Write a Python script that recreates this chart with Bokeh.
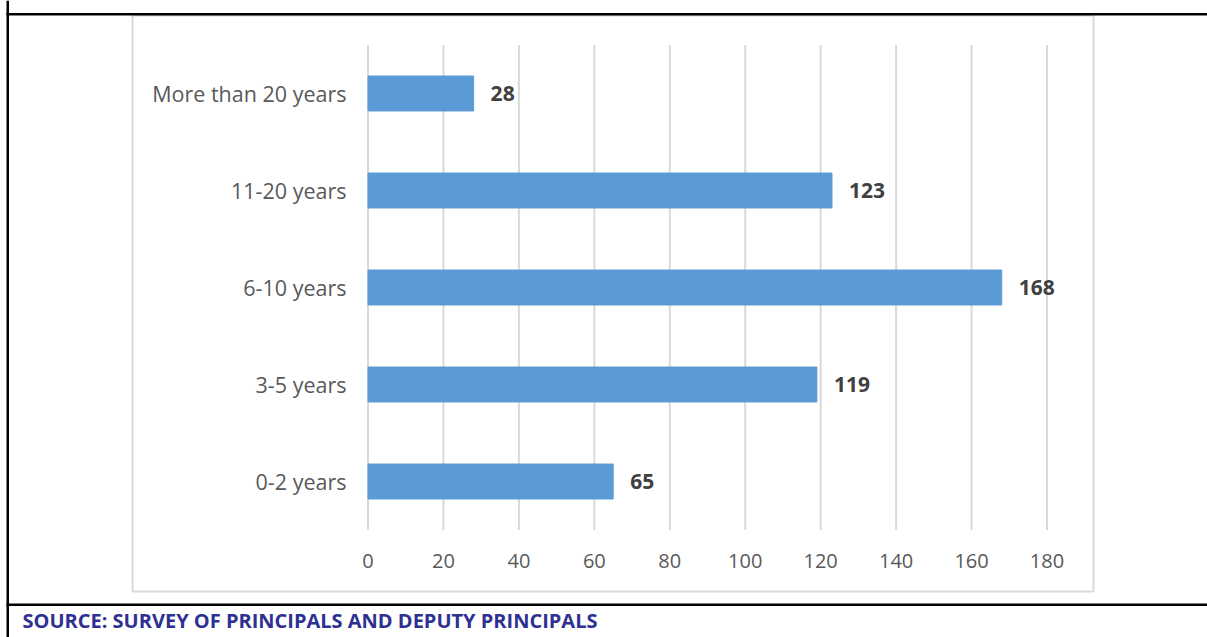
from bokeh.plotting import figure
from bokeh.models import (Range1d, FixedTicker, BoxAnnotation, Label,
                          ColumnDataSource)
from bokeh.core.properties import value
from bokeh.embed import file_html
from bokeh.resources import INLINE

categories = ["0-2 years", "3-5 years", "6-10 years", "11-20 years", "More than 20 years"]
values = [65, 119, 168, 123, 28]
x_ticks = [0, 20, 40, 60, 80, 100, 120, 140, 160, 180]
source_note = "SOURCE: SURVEY OF PRINCIPALS AND DEPUTY PRINCIPALS"

FONT = "Open Sans"
W, H = 1207, 637
FL, FB = 4, 0            # min borders (left, bottom); frame covers the rest of the canvas

# data -> pixel layout of the inner plot area
X0_PX, PX_PER_X = 367.5, 679.0 / 180.0
Y0_PX, PX_PER_Y = 481.0, 97.0
x_start = (FL - X0_PX) / PX_PER_X
x_end = (W - X0_PX) / PX_PER_X
y_end = Y0_PX / PX_PER_Y
y_start = -((H - FB) - Y0_PX) / PX_PER_Y

ypos = list(range(len(categories)))

p = figure(width=W, height=H, output_backend="svg", toolbar_location=None,
           x_range=Range1d(x_start, x_end), y_range=Range1d(y_start, y_end),
           min_border_left=FL, min_border_right=0, min_border_top=0, min_border_bottom=FB)
p.outline_line_color = None
p.background_fill_color = "white"
p.border_fill_color = "white"
p.xgrid.grid_line_color = None
p.ygrid.grid_line_color = None

# gridlines at the ticks, spanning the category band
p.segment(x0=x_ticks, x1=x_ticks, y0=[-0.5] * len(x_ticks), y1=[len(categories) - 0.5] * len(x_ticks),
          line_color="#d9d9d9", line_width=2)

src = ColumnDataSource(dict(y=ypos, val=values, lab=[str(v) for v in values]))
p.hbar(y="y", right="val", left=0, height=0.36, source=src,
       fill_color="#5b9bd5", line_color="#5b9bd5")

p.text(x="val", y="y", text="lab", source=src, x_offset=17,
       text_baseline="middle", text_font=value(FONT), text_font_style="bold",
       text_font_size="21px", text_color="#404040")

# axes (labels pulled into the frame with negative standoff)
p.xaxis.ticker = FixedTicker(ticks=x_ticks)
p.xaxis.axis_line_color = None
p.xaxis.major_tick_line_color = None
p.xaxis.minor_tick_line_color = None
p.xaxis.major_tick_out = 0
p.xaxis.major_tick_in = 0
p.xaxis.minor_tick_out = 0
p.xaxis.major_label_text_font = FONT
p.xaxis.major_label_text_font_size = "20px"
p.xaxis.major_label_text_color = "#595959"
p.xaxis.major_label_standoff = -(H - FB) + 553

p.yaxis.ticker = FixedTicker(ticks=ypos)
p.yaxis.major_label_overrides = {i: c for i, c in zip(ypos, categories)}
p.yaxis.axis_line_color = None
p.yaxis.major_tick_line_color = None
p.yaxis.minor_tick_line_color = None
p.yaxis.major_tick_out = 0
p.yaxis.major_tick_in = 0
p.yaxis.minor_tick_out = 0
p.yaxis.major_label_text_font = FONT
p.yaxis.major_label_text_font_size = "21.5px"
p.yaxis.major_label_text_color = "#595959"
p.yaxis.major_label_standoff = FL - 346

# decorations (canvas pixel units)
def box(l, r, t, b, **kw):
    return BoxAnnotation(left=l, right=r, top=t, bottom=b,
                         left_units="canvas", right_units="canvas",
                         top_units="canvas", bottom_units="canvas", **kw)

p.add_layout(box(132, 1093, 15, 591, fill_color=None, line_color="#d9d9d9",
                 line_alpha=1, line_width=2))
p.add_layout(box(6, W, 12.5, 15, fill_color="black", fill_alpha=1, line_color=None))
p.add_layout(box(6, W, 603, 605.5, fill_color="black", fill_alpha=1, line_color=None))
p.add_layout(box(6, 8.5, 0, H, fill_color="black", fill_alpha=1, line_color=None))

note = Label(x=22, y=620, x_units="canvas", y_units="canvas", text=source_note,
             text_font=FONT, text_font_style="bold", text_font_size="20px",
             text_color="#2e3192", text_baseline="alphabetic")
p.add_layout(note)

open("out.html", "w").write(file_html(p, INLINE))
